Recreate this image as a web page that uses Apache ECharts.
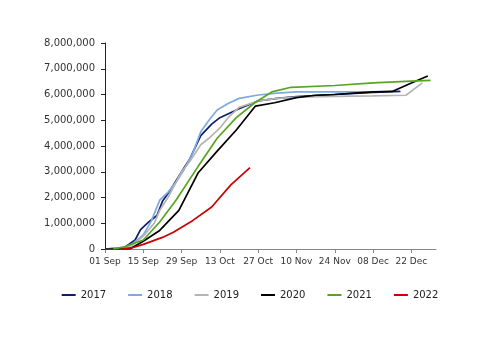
<!DOCTYPE html>
<html>
<head>
<meta charset="utf-8">
<script src="https://cdn.jsdelivr.net/npm/echarts@6/dist/echarts.min.js"></script>
<style>
  html, body { margin: 0; padding: 0; background: #fff; }
  #chart { width: 500px; height: 353px; }
</style>
</head>
<body>
<div id="chart"></div>
<script>
// x values are days counted from 01 Sep, y values in millions
const tickDays = [0, 14, 28, 42, 56, 70, 84, 98, 112];
const tickLabels = ['01 Sep', '15 Sep', '29 Sep', '13 Oct', '27 Oct', '10 Nov', '24 Nov', '08 Dec', '22 Dec'];

const years = ['2017', '2018', '2019', '2020', '2021', '2022'];
const colors = ['#0d1f6b', '#7ea9e1', '#b4b4b4', '#000000', '#55a61f', '#cc0000'];

const s2017 = [[0,0],[7,0.05],[11,0.35],[13,0.75],[16,1.05],[19,1.3],[21,1.85],[24,2.3],[28,3.0],[31,3.5],[35,4.4],[39,4.85],[42,5.1],[49,5.45],[56,5.75],[63,5.85],[70,5.92],[84,6.0],[98,6.08],[108,6.12]];
const s2018 = [[0,0],[7,0.05],[10,0.2],[14,0.55],[17,1.1],[20,1.9],[23,2.2],[26,2.6],[29,3.1],[32,3.7],[35,4.55],[38,5.0],[41,5.4],[45,5.65],[49,5.85],[56,5.98],[63,6.05],[70,6.1],[98,6.1]];
const s2019 = [[0,0],[7,0.03],[10,0.15],[14,0.5],[18,1.0],[20,1.5],[23,2.0],[26,2.6],[28,3.0],[31,3.4],[35,4.05],[38,4.3],[42,4.7],[45,5.1],[49,5.5],[56,5.75],[63,5.85],[70,5.9],[84,5.93],[98,5.95],[110,5.97],[116,6.45]];
const s2020 = [[0,0],[9,0],[14,0.3],[20,0.72],[27,1.5],[34,2.95],[41,3.8],[48,4.62],[55,5.55],[62,5.68],[70,5.88],[77,5.97],[84,6.0],[91,6.05],[98,6.1],[105,6.12],[112,6.45],[118,6.72]];
const s2021 = [[3,0],[7,0.08],[14,0.35],[20,1.05],[26,1.9],[34,3.2],[41,4.3],[48,5.1],[55,5.7],[61,6.1],[68,6.28],[84,6.35],[98,6.45],[112,6.52],[119,6.55]];
const s2022 = [[6,0],[10,0.05],[14,0.18],[21,0.45],[25,0.65],[32,1.1],[39,1.63],[46,2.49],[53,3.16]];

const seriesData = [s2017, s2018, s2019, s2020, s2021, s2022];

const font = 'DejaVu Sans';
const chart = echarts.init(document.getElementById('chart'), null, { renderer: 'canvas' });

chart.setOption({
  animation: false,
  grid: { left: 105, right: 64, top: 43, bottom: 104 },
  legend: {
    bottom: 48,
    left: 'center',
    icon: 'rect',
    itemWidth: 14,
    itemHeight: 2,
    itemGap: 22,
    data: years,
    textStyle: { fontFamily: font, fontSize: 10, color: '#222' }
  },
  xAxis: {
    type: 'value',
    min: 0,
    max: 121,
    interval: 14,
    splitLine: { show: false },
    axisLine: { lineStyle: { color: '#888', width: 1 } },
    axisTick: { customValues: tickDays, length: 4, lineStyle: { color: '#888' } },
    axisLabel: {
      customValues: tickDays,
      margin: 8,
      fontFamily: font,
      fontSize: 9,
      color: '#333',
      formatter: v => tickLabels[tickDays.indexOf(v)] || ''
    }
  },
  yAxis: {
    type: 'value',
    min: 0,
    max: 8,
    interval: 1,
    splitLine: { show: false },
    axisLine: { show: true, lineStyle: { color: '#222', width: 1 } },
    axisTick: { show: true, length: 4, lineStyle: { color: '#222' } },
    axisLabel: {
      margin: 10,
      fontFamily: font,
      fontSize: 10,
      color: '#333',
      formatter: v => (v * 1000000).toLocaleString('en-US')
    }
  },
  series: years.map((y, i) => ({
    name: y,
    type: 'line',
    data: seriesData[i],
    showSymbol: false,
    symbol: 'none',
    color: colors[i],
    lineStyle: { width: 1.7, color: colors[i] }
  }))
});
</script>
</body>
</html>
